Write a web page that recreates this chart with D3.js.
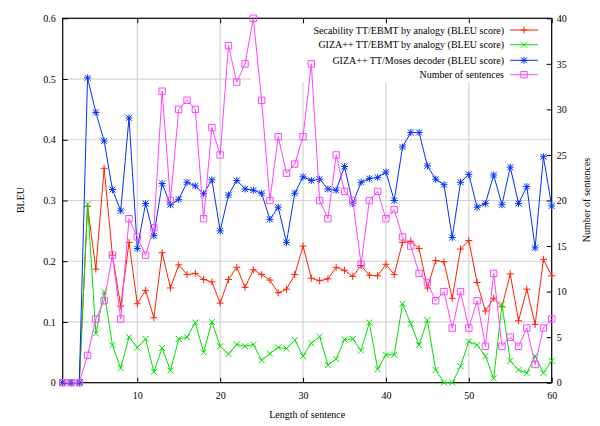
<!DOCTYPE html>
<html>
<head>
<meta charset="utf-8">
<script src="https://cdn.jsdelivr.net/npm/d3@7"></script>
<style>
html,body{margin:0;padding:0;background:#fff;}
svg{display:block;}
text{font-family:"Liberation Serif","DejaVu Serif","Times New Roman",serif;font-size:10px;fill:#000;}
</style>
</head>
<body>
<svg id="chart" width="600" height="426"></svg>
<script>
// ---- data ----
const lengths = [1,2,3,4,5,6,7,8,9,10,11,12,13,14,15,16,17,18,19,20,21,22,23,24,25,26,27,28,29,30,
  31,32,33,34,35,36,37,38,39,40,41,42,43,44,45,46,47,48,49,50,51,52,53,54,55,56,57,58,59,60];
const secability = [0,0,0,0.29,0.187,0.353,0.21,0.126,0.231,0.130,0.152,0.107,0.214,0.156,0.194,0.178,0.180,0.170,0.166,0.131,
  0.170,0.190,0.157,0.186,0.178,0.169,0.148,0.154,0.178,0.225,0.172,0.168,0.171,0.190,0.185,0.175,0.193,0.177,0.176,0.195,
  0.178,0.231,0.233,0.221,0.156,0.201,0.199,0.139,0.220,0.234,0.165,0.118,0.139,0.125,0.179,0.102,0.154,0.096,0.203,0.176];
const gizaEbmt = [0,0,0,0.294,0.081,0.150,0.062,0.024,0.075,0.058,0.072,0.018,0.057,0.020,0.072,0.075,0.099,0.050,0.100,0.060,
  0.047,0.063,0.060,0.063,0.037,0.048,0.058,0.056,0.070,0.044,0.065,0.076,0.029,0.039,0.071,0.072,0.053,0.099,0.022,0.046,
  0.046,0.130,0.097,0.062,0.103,0.021,0,0,0.027,0.068,0.062,0.044,0.007,0.129,0.036,0.021,0.016,0.044,0.016,0.036];
const gizaMoses = [0,0,0,0.502,0.445,0.398,0.318,0.283,0.436,0.221,0.295,0.242,0.328,0.293,0.302,0.330,0.324,0.311,0.334,0.250,
  0.309,0.333,0.319,0.317,0.312,0.269,0.289,0.231,0.312,0.339,0.333,0.335,0.319,0.317,0.356,0.295,0.330,0.336,0.338,0.347,
  0.300,0.388,0.412,0.412,0.357,0.335,0.326,0.239,0.330,0.343,0.289,0.295,0.342,0.293,0.355,0.295,0.323,0.222,0.372,0.291];
const sentences = [0,0,0,3,7,9,14,7,18,16,14,17,32,20,30,31,30,18,28,25,
  37,33,35,40,31,20,27,23,24,27,35,20,18,25,21,20,13,20,21,18,
  19,16,15,12,11,9,10,6,10,6,9,4,12,4,5,4,6,2,6,7];
const xTicks = [10,20,30,40,50,60];
const yTicks = [0,0.1,0.2,0.3,0.4,0.5,0.6];
const y2Ticks = [0,5,10,15,20,25,30,35,40];
const seriesNames = ["Secability TT/EBMT by analogy (BLEU score)","GIZA++ TT/EBMT by analogy (BLEU score)",
  "GIZA++ TT/Moses decoder (BLEU score)","Number of sentences"];

// ---- layout ----
const L = 62.7, R = 551.7, T = 18.3, B = 382.7;
const FONT = '"Liberation Serif","DejaVu Serif","Times New Roman",serif';
const svg = d3.select("#chart");
svg.append("rect").attr("width",600).attr("height",426).attr("fill","#fff");

const x = d3.scaleLinear().domain([1,60]).range([L,R]);
const y = d3.scaleLinear().domain([0,0.6]).range([B,T]);
const y2 = d3.scaleLinear().domain([0,40]).range([B,T]);

// grid
const grid = svg.append("g").attr("stroke","#d4d4d4").attr("stroke-width",1.2);
xTicks.filter(v=>v<60).forEach(v=>{
  grid.append("line").attr("x1",x(v)).attr("x2",x(v)).attr("y1",B).attr("y2",T);
});
yTicks.filter(v=>v>0 && v<0.6).forEach(v=>{
  grid.append("line").attr("x1",L).attr("x2",R).attr("y1",y(v)).attr("y2",y(v));
});
// key area blanks the grid
svg.append("rect").attr("x",251).attr("y",T).attr("width",R-251).attr("height",82-T).attr("fill","#fff");

// axes
function styleAxis(g){
  g.attr("font-family",FONT).attr("font-size",10);
  g.select(".domain").remove();
  g.selectAll(".tick line").attr("stroke","#000").attr("stroke-width",1);
  g.selectAll(".tick text").attr("fill","#000").style("font-family",FONT).style("font-size","10px");
}
svg.append("g").attr("transform",`translate(0,${B})`)
  .call(d3.axisBottom(x).tickValues(xTicks).tickSize(-5).tickPadding(9).tickFormat(d3.format("d")))
  .call(styleAxis);
svg.append("g").attr("transform",`translate(0,${T})`)
  .call(d3.axisTop(x).tickValues(xTicks).tickSize(-5).tickFormat(""))
  .call(styleAxis);
svg.append("g").attr("transform",`translate(${L},0)`)
  .call(d3.axisLeft(y).tickValues(yTicks).tickSize(-5).tickPadding(7).tickFormat(d=>d===0?"0":d3.format(".1f")(d)))
  .call(styleAxis);
svg.append("g").attr("transform",`translate(${R},0)`)
  .call(d3.axisRight(y2).tickValues(y2Ticks).tickSize(-5).tickPadding(5).tickFormat(d3.format("d")))
  .call(styleAxis);

// border
svg.append("rect").attr("x",L).attr("y",T).attr("width",R-L).attr("height",B-T)
  .attr("fill","none").attr("stroke","#000").attr("stroke-width",1.2);

// axis labels
svg.append("text").attr("x",(L+R)/2).attr("y",418).attr("text-anchor","middle").text("Length of sentence");
svg.append("text").attr("transform","translate(24,200) rotate(-90)").attr("text-anchor","middle").text("BLEU");
svg.append("text").attr("transform","translate(590,200) rotate(-90)").attr("text-anchor","middle").text("Number of sentences");

// markers
const plusP = "M-3.5,0H3.5M0,-3.5V3.5";
const crossP = "M-3,-3L3,3M-3,3L3,-3";
const starP = plusP + crossP;
const squareP = "M-3.2,-3.2H3.2V3.2H-3.2Z";

const series = [
  {name:seriesNames[0], vals:secability, color:"#ff2200", mark:plusP, sc:y},
  {name:seriesNames[1], vals:gizaEbmt, color:"#00e000", mark:crossP, sc:y},
  {name:seriesNames[2], vals:gizaMoses, color:"#0033ff", mark:starP, sc:y},
  {name:seriesNames[3], vals:sentences, color:"#ff44ff", mark:squareP, sc:y2}
];

series.forEach(s=>{
  const pts = lengths.map((l,i)=>[l,s.vals[i]]);
  const line = d3.line().x(d=>x(d[0])).y(d=>s.sc(d[1]));
  const g = svg.append("g");
  g.append("path").attr("d",line(pts)).attr("fill","none").attr("stroke",s.color).attr("stroke-width",1);
  g.selectAll("path.m").data(pts).enter().append("path").attr("class","m")
    .attr("transform",d=>`translate(${x(d[0])},${s.sc(d[1])})`)
    .attr("d",s.mark).attr("fill","none").attr("stroke",s.color).attr("stroke-width",1);
});

// legend
const rows = [30,44.7,60.3,74.7];
series.forEach((s,i)=>{
  const g = svg.append("g").attr("transform",`translate(0,${rows[i]})`);
  g.append("text").attr("x",504).attr("y",0).attr("dy","0.35em").attr("text-anchor","end").text(s.name);
  g.append("line").attr("x1",510).attr("x2",538).attr("y1",0).attr("y2",0).attr("stroke",s.color).attr("stroke-width",1);
  g.append("path").attr("transform","translate(524,0)").attr("d",s.mark).attr("fill","none").attr("stroke",s.color).attr("stroke-width",1);
});
</script>
</body>
</html>
